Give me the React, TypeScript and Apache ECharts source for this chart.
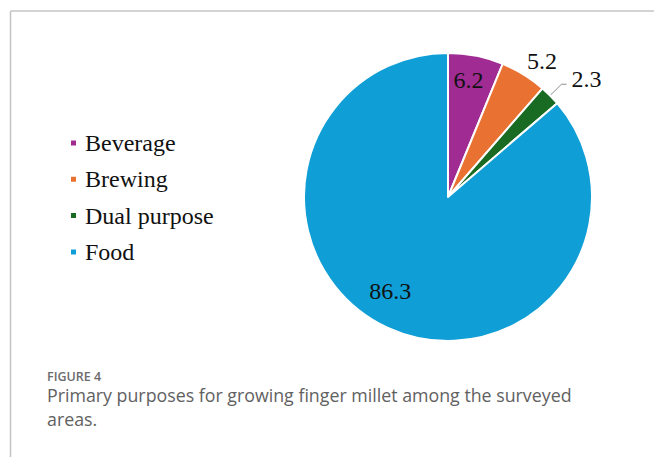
import React, { useEffect, useRef } from "react";
import * as echarts from "echarts";

const categories = ["Beverage", "Brewing", "Dual purpose", "Food"];
const shares = [6.2, 5.2, 2.3, 86.3];
const sliceColors = ["#A02B93", "#E97132", "#196B24", "#0F9ED5"];
const figureLabel = "FIGURE 4";
const captionLines = [
  "Primary purposes for growing finger millet among the surveyed",
  "areas.",
];

// label nudges (dx, dy) in pixels, per slice
const labelShift = [
  [6, -43],
  [-9, -1.5],
  [0, 0],
  [-26.5, 26],
];

export default function App() {
  const ref = useRef<HTMLDivElement>(null);
  useEffect(() => {
    if (!ref.current) return;
    const chart = echarts.init(ref.current, null, { renderer: "svg" });
    const serif = "'Liberation Serif', 'Times New Roman', serif";
    const sans = "'Open Sans', 'Noto Sans', sans-serif";
    const data = categories.map((name, i) => {
      const inside = i === 0 || i === 3;
      const item: any = {
        name,
        value: shares[i],
        itemStyle: { color: sliceColors[i] },
      };
      if (inside) {
        item.label = { position: "inside" };
        item.labelLine = { show: false };
      } else if (i === 1) {
        item.label = { position: "outside" };
        item.labelLine = { show: false, length: 14, length2: 0 };
      } else {
        item.label = {
          position: "outside",
          formatter: "{v|{c}}\n{s| }",
          rich: {
            v: { fontFamily: serif, fontSize: 24, color: "#111111", lineHeight: 28 },
            s: { fontSize: 1, lineHeight: 11, height: 11 },
          },
        };
        item.labelLine = {
          show: true,
          length: 16,
          length2: 5,
          lineStyle: { color: "#8c8c8c", width: 1 },
        };
      }
      return item;
    });
    chart.setOption({
      animation: false,
      backgroundColor: "#ffffff",
      legend: {
        orient: "vertical",
        left: 69,
        top: 131,
        padding: 0,
        data: categories,
        icon: "rect",
        itemWidth: 7,
        itemHeight: 7,
        itemGap: 12.3,
        selectedMode: false,
        textStyle: {
          fontFamily: serif,
          fontSize: 24,
          color: "#111111",
          lineHeight: 24,
          padding: [0, 0, 0, 3],
        },
      },
      series: [
        {
          type: "pie",
          center: [448, 197],
          radius: [0, 144],
          startAngle: 90,
          clockwise: true,
          avoidLabelOverlap: false,
          silent: true,
          emphasis: { disabled: true, scale: false },
          itemStyle: { borderColor: "#ffffff", borderWidth: 2 },
          label: {
            formatter: "{c}",
            fontFamily: serif,
            fontSize: 24,
            color: "#111111",
            distanceToLabelLine: 5,
          },
          labelLayout: (params: any) => {
            const s = labelShift[params.dataIndex] || [0, 0];
            return { dx: s[0], dy: s[1] };
          },
          data,
        },
      ],
      graphic: [
        {
          type: "line",
          shape: { x1: 10.5, y1: 11, x2: 654, y2: 11 },
          style: { stroke: "#c4c4c4", lineWidth: 1.5 },
          silent: true,
        },
        {
          type: "line",
          shape: { x1: 10.5, y1: 11, x2: 10.5, y2: 457 },
          style: { stroke: "#c4c4c4", lineWidth: 1.5 },
          silent: true,
        },
        {
          type: "text",
          x: 47,
          y: 376.2,
          style: {
            text: figureLabel,
            font: `600 12.5px ${sans}`,
            fill: "#6b6b6b",
            lineHeight: 13,
            textVerticalAlign: "middle",
          },
          silent: true,
        },
        {
          type: "text",
          x: 47,
          y: 395.2,
          style: {
            text: captionLines[0],
            font: `17.8px ${sans}`,
            fill: "#616161",
            lineHeight: 18,
            textVerticalAlign: "middle",
          },
          silent: true,
        },
        {
          type: "text",
          x: 47,
          y: 419,
          style: {
            text: captionLines[1],
            font: `17.8px ${sans}`,
            fill: "#616161",
            lineHeight: 18,
            textVerticalAlign: "middle",
          },
          silent: true,
        },
      ],
    });
    return () => chart.dispose();
  }, []);
  return (
    <div
      ref={ref}
      style={{ position: "absolute", left: 0, top: 0, width: 654, height: 457 }}
    />
  );
}
